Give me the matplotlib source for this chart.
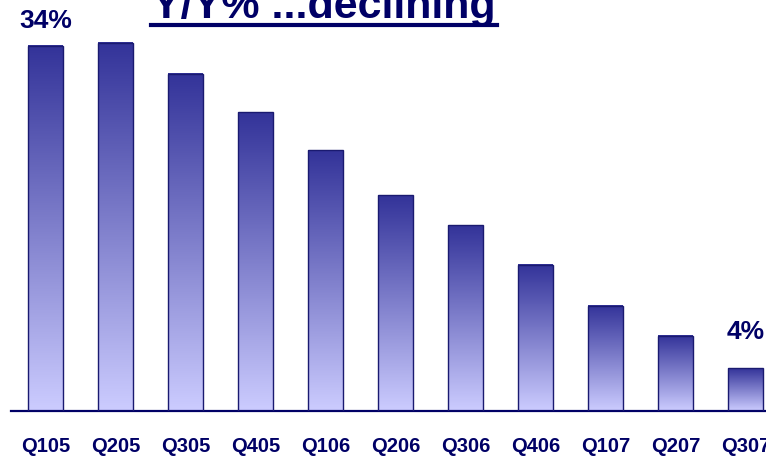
import matplotlib
matplotlib.use("Agg")
import matplotlib.pyplot as plt
import numpy as np
from matplotlib.colors import LinearSegmentedColormap
from matplotlib.lines import Line2D

categories = ["Q105", "Q205", "Q305", "Q405", "Q106", "Q206", "Q306", "Q406", "Q107", "Q207", "Q307"]
values = [34.0, 34.3, 31.4, 27.8, 24.3, 20.1, 17.3, 13.6, 9.8, 7.0, 4.0]
title = "Y/Y% ...declining"
value_labels = {0: "34%", 10: "4%"}

plt.rcParams['font.family'] = ['Liberation Sans', 'DejaVu Sans']
navy = "#000066"

W, H = 766, 458
fig = plt.figure(figsize=(W / 100, H / 100), dpi=100)
ax = fig.add_axes([11 / W, 47 / H, (W - 11) / W, 411 / H])

x = np.arange(len(categories))
bars = ax.bar(x, values, width=0.5, facecolor="none", edgecolor="#1a1a70", linewidth=1.0, zorder=3)

cmap = LinearSegmentedColormap.from_list("g", ["#ccccff", "#333399"])
grad = np.linspace(0, 1, 256).reshape(-1, 1)
for b in bars:
    x0, y0 = b.get_x(), b.get_y()
    w, h = b.get_width(), b.get_height()
    ax.imshow(grad, cmap=cmap, origin="lower", aspect="auto",
              extent=(x0, x0 + w, y0, y0 + h), zorder=2)

ax.set_xlim(-0.5, 10.286)
ax.set_ylim(0, 38.27)

for i, lab in value_labels.items():
    off = 9.0 if i == 0 else 17.0
    ax.annotate(lab, (x[i], values[i]), xytext=(0, off), textcoords="offset points",
                ha="center", va="bottom", fontsize=19, fontweight="bold", color=navy,
                annotation_clip=False)

ax.set_xticks(x)
ax.set_xticklabels(categories, fontsize=14.5, fontweight="bold", color=navy)
ax.tick_params(axis="x", length=0, pad=19)
ax.set_yticks([])
for s in ["top", "right", "left"]:
    ax.spines[s].set_visible(False)
ax.spines["bottom"].set_color(navy)
ax.spines["bottom"].set_linewidth(1.6)

t = fig.text(324 / W, (H - 18) / H, title, ha="center", va="baseline",
             fontsize=31, fontweight="bold", color=navy)
fig.canvas.draw()
bb = t.get_window_extent(fig.canvas.get_renderer())
uy = (H - 25) / H
fig.add_artist(Line2D([bb.x0 / W - 0.002, bb.x1 / W + 0.002], [uy, uy],
                      transform=fig.transFigure, color=navy, linewidth=3.0))

fig.savefig("out.png", dpi=100)
